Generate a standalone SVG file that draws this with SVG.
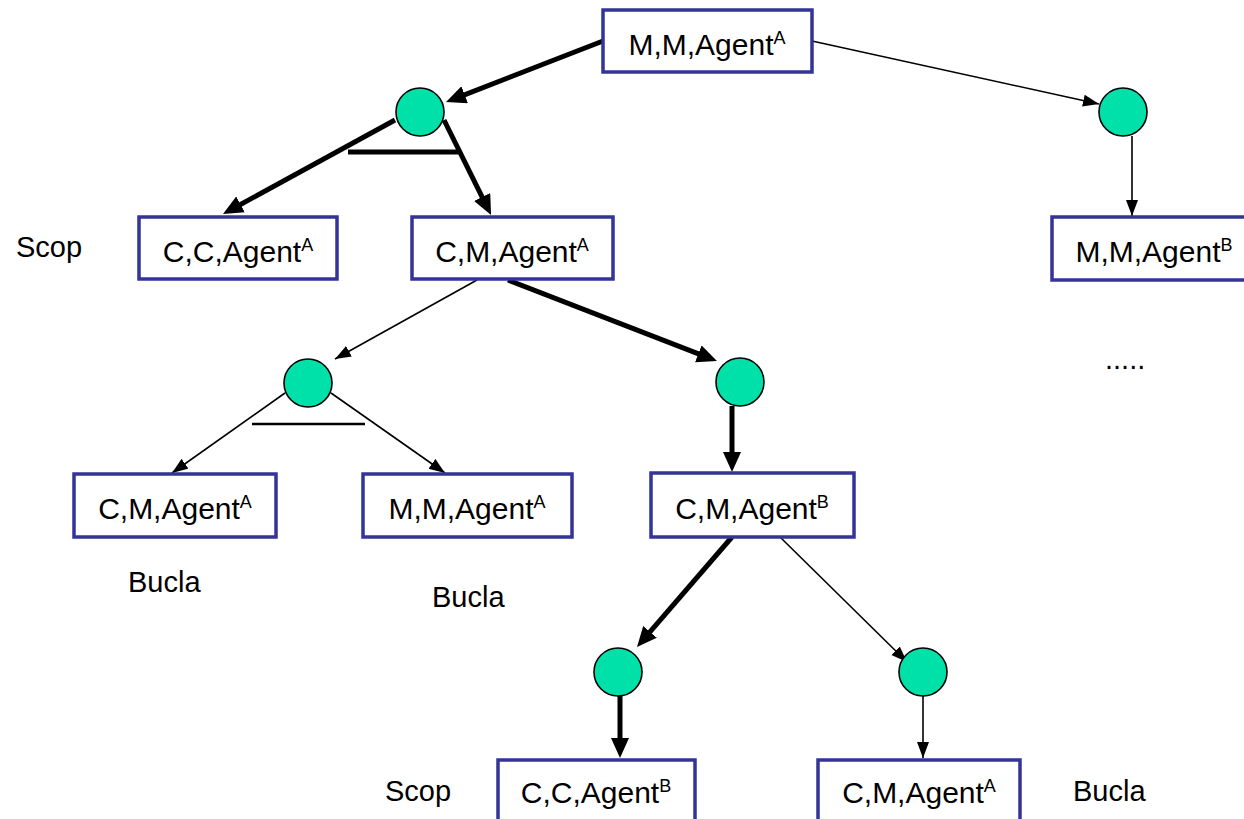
<svg xmlns="http://www.w3.org/2000/svg" width="1244" height="819" viewBox="0 0 1244 819">
<style>
.box{fill:#fff;stroke:#333399;stroke-width:3.5}
.dot{fill:#00E1A9;stroke:#000;stroke-width:1.6}
.t{font-family:"Liberation Sans",Arial,sans-serif;font-size:30px;fill:#000;text-anchor:middle}
.l{font-family:"Liberation Sans",Arial,sans-serif;font-size:29px;fill:#000}
.sup{font-size:18px}
.thick{stroke:#000;stroke-width:5;fill:none;marker-end:url(#ah)}
.thin{stroke:#000;stroke-width:1.6;fill:none;marker-end:url(#as)}
</style>
<defs>
<marker id="ah" markerUnits="userSpaceOnUse" markerWidth="22" markerHeight="20" refX="12" refY="9" orient="auto"><path d="M0,0 L20,9 L0,18 z" fill="#000"/></marker>
<marker id="as" markerUnits="userSpaceOnUse" markerWidth="18" markerHeight="14" refX="16" refY="6" orient="auto"><path d="M0,0 L16,6 L0,12 z" fill="#000"/></marker>
</defs>
<rect width="1244" height="819" fill="#fff"/>
<g id="connectors">
<path class="thick" d="M603,41 L453.5,99.1"/>
<path class="thin" d="M812,41 L1099,104"/>
<path class="thick" d="M395,120 L230,210.2"/>
<path class="thick" d="M444,120 L487.5,207.8"/>
<path d="M348,152 L459,152" stroke="#000" stroke-width="5"/>
<path class="thin" d="M1132,136 L1132,216"/>
<path class="thin" d="M477,280 L335,359"/>
<path class="thick" d="M508,280 L709.5,358.1"/>
<path class="thin" d="M285,393 L172,473"/>
<path class="thin" d="M331,393 L445,473"/>
<path d="M252,424 L365,424" stroke="#000" stroke-width="2.5"/>
<path class="thick" d="M732,406 L732,464"/>
<path class="thick" d="M732,537 L642.2,640.9"/>
<path class="thin" d="M780,537 L907,662"/>
<path class="thick" d="M620,696 L620,750"/>
<path class="thin" d="M923,696 L923,758"/>
</g>
<g id="n_root"><rect class="box" x="603" y="10" width="209" height="62"/><text class="t" x="707" y="55">M,M,Agent<tspan class="sup" dy="-11">A</tspan></text></g>
<g id="or1"><circle class="dot" cx="420" cy="112" r="24"/></g>
<g id="or2"><circle class="dot" cx="1123" cy="112" r="24"/></g>
<g id="n_ccA"><rect class="box" x="139" y="217" width="198" height="62"/><text class="t" x="238" y="262">C,C,Agent<tspan class="sup" dy="-11">A</tspan></text></g>
<g id="n_cmA"><rect class="box" x="412" y="217" width="201" height="62"/><text class="t" x="512" y="262">C,M,Agent<tspan class="sup" dy="-11">A</tspan></text></g>
<g id="n_mmB"><rect class="box" x="1052" y="217" width="204" height="63"/><text class="t" x="1154" y="262">M,M,Agent<tspan class="sup" dy="-11">B</tspan></text></g>
<g id="or3"><circle class="dot" cx="308" cy="383" r="24"/></g>
<g id="or4"><circle class="dot" cx="740" cy="382" r="24"/></g>
<g id="n_cmA2"><rect class="box" x="74" y="474" width="202" height="63"/><text class="t" x="175" y="519">C,M,Agent<tspan class="sup" dy="-11">A</tspan></text></g>
<g id="n_mmA"><rect class="box" x="363" y="474" width="209" height="63"/><text class="t" x="467" y="519">M,M,Agent<tspan class="sup" dy="-11">A</tspan></text></g>
<g id="n_cmB"><rect class="box" x="651" y="473" width="203" height="64"/><text class="t" x="752" y="519">C,M,Agent<tspan class="sup" dy="-11">B</tspan></text></g>
<g id="or5"><circle class="dot" cx="618" cy="672" r="24"/></g>
<g id="or6"><circle class="dot" cx="923" cy="672" r="24"/></g>
<g id="n_ccB"><rect class="box" x="498" y="760" width="197" height="64"/><text class="t" x="596" y="803">C,C,Agent<tspan class="sup" dy="-11">B</tspan></text></g>
<g id="n_cmA3"><rect class="box" x="818" y="760" width="202" height="64"/><text class="t" x="919" y="803">C,M,Agent<tspan class="sup" dy="-11">A</tspan></text></g>
<g id="labels">
<text class="l" x="16" y="257">Scop</text>
<text class="l" x="128" y="592">Bucla</text>
<text class="l" x="432" y="607">Bucla</text>
<text class="l" x="385" y="801">Scop</text>
<text class="l" x="1073" y="801">Bucla</text>
<text class="l" x="1105" y="369">.....</text>
</g>
</svg>
